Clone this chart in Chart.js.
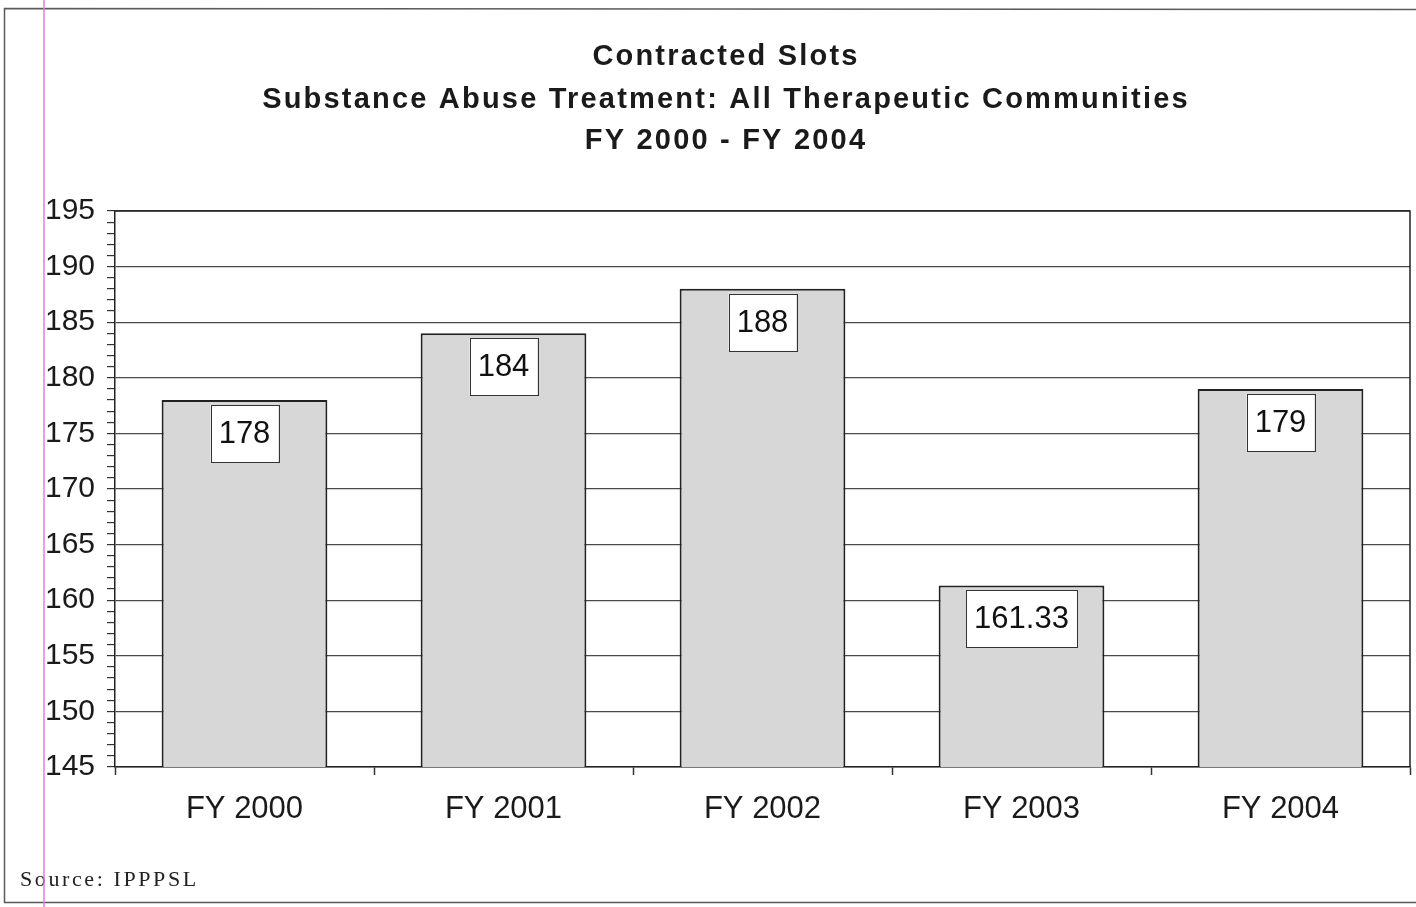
<!DOCTYPE html>
<html>
<head>
<meta charset="utf-8">
<script src="https://cdn.jsdelivr.net/npm/chart.js@4/dist/chart.umd.min.js"></script>
<style>
  html, body { margin: 0; padding: 0; background: #fff; }
  canvas { display: block; }
</style>
</head>
<body>
<canvas id="chart" width="1416" height="907"></canvas>
<script>
// Fiscal years and contracted treatment slots
const categories = ['FY 2000', 'FY 2001', 'FY 2002', 'FY 2003', 'FY 2004'];
const slots = [178, 184, 188, 161.33, 179];

// Value axis range and tick spacing
const yMin = 145;
const yMax = 195;
const majorStep = 5;
const minorStep = 1;

const titleLines = [
  'Contracted Slots',
  'Substance Abuse Treatment: All Therapeutic Communities',
  'FY 2000 - FY 2004'
];
const sourceNote = 'Source: IPPPSL';

const SANS = '"Liberation Sans", Arial, Helvetica, sans-serif';
const SERIF = '"Liberation Serif", "Times New Roman", serif';

// White page, outer frame, title and source line
const pagePlugin = {
  id: 'page',
  beforeDraw(chart) {
    const ctx = chart.ctx;
    ctx.save();
    ctx.fillStyle = '#fff';
    ctx.fillRect(0, 0, chart.width, chart.height);

    ctx.strokeStyle = '#5a5a5a';
    ctx.lineWidth = 1.5;
    ctx.beginPath();
    ctx.moveTo(chart.width, 9.5);
    ctx.lineTo(4.5, 8.5);
    ctx.lineTo(4.5, 902.5);
    ctx.lineTo(chart.width, 902.5);
    ctx.stroke();

    ctx.fillStyle = '#1a1a1a';
    ctx.font = 'bold 29px ' + SANS;
    ctx.letterSpacing = '2.2px';
    ctx.textBaseline = 'middle';
    ctx.textAlign = 'left';
    const centers = [57, 100, 141];
    titleLines.forEach((line, i) => {
      const w = ctx.measureText(line).width;
      ctx.fillText(line, 726 - w / 2, centers[i]);
    });

    ctx.font = '22px ' + SERIF;
    ctx.letterSpacing = '2.6px';
    ctx.textBaseline = 'alphabetic';
    ctx.fillStyle = '#222';
    ctx.fillText(sourceNote, 20, 886);
    ctx.restore();
  },
  afterDraw(chart) {
    const ctx = chart.ctx;
    const a = chart.chartArea;
    ctx.save();
    // frame round the plot area
    ctx.strokeStyle = '#222';
    ctx.lineWidth = 1.5;
    ctx.beginPath();
    ctx.moveTo(a.left, a.top);
    ctx.lineTo(a.right, a.top);
    ctx.lineTo(a.right, a.bottom);
    ctx.stroke();
    // margin rule
    ctx.strokeStyle = '#e07ee0';
    ctx.lineWidth = 1.5;
    ctx.beginPath();
    ctx.moveTo(44, 0);
    ctx.lineTo(44, chart.height);
    ctx.stroke();
    ctx.restore();
  }
};

// Boxed value labels just inside the top of each bar
const boxLabelPlugin = {
  id: 'boxLabels',
  afterDatasetsDraw(chart) {
    const ctx = chart.ctx;
    const meta = chart.getDatasetMeta(0);
    ctx.save();
    ctx.font = '31px ' + SANS;
    ctx.textBaseline = 'middle';
    ctx.textAlign = 'center';
    meta.data.forEach((bar, i) => {
      const text = String(chart.data.datasets[0].data[i]);
      const w = ctx.measureText(text).width + 16;
      const h = 57;
      const x = bar.x - w / 2;
      const y = bar.y + 5;
      ctx.fillStyle = '#fff';
      ctx.fillRect(x, y, w, h);
      ctx.strokeStyle = '#333';
      ctx.lineWidth = 1;
      ctx.strokeRect(Math.round(x) + 0.5, Math.round(y) + 0.5, Math.round(w), h);
      ctx.fillStyle = '#111';
      ctx.fillText(text, bar.x, y + h / 2 + 1);
    });
    ctx.restore();
  }
};

new Chart(document.getElementById('chart'), {
  type: 'bar',
  data: {
    labels: categories,
    datasets: [{
      data: slots,
      backgroundColor: '#d7d7d7',
      borderColor: '#222',
      borderWidth: 2,
      borderSkipped: 'start',
      barPercentage: 0.64,
      categoryPercentage: 1.0
    }]
  },
  options: {
    responsive: false,
    devicePixelRatio: 1,
    animation: false,
    layout: { padding: { top: 211, right: 6, left: 0, bottom: 0 } },
    plugins: {
      legend: { display: false },
      title: { display: false },
      tooltip: { enabled: false }
    },
    scales: {
      x: {
        type: 'category',
        afterFit(scale) { scale.height = 140; },
        grid: {
          offset: true,
          drawOnChartArea: false,
          tickLength: 8,
          tickColor: '#333',
          tickWidth: 1.5
        },
        border: { display: true, color: '#222', width: 1.5 },
        ticks: {
          padding: 16,
          color: '#1a1a1a',
          font: { family: SANS, size: 31 }
        }
      },
      y: {
        min: yMin,
        max: yMax,
        afterFit(scale) { scale.width = 115; },
        grid: {
          color: (c) => (c.tick && c.tick.value % majorStep === 0) ? '#4a4a4a' : 'rgba(0,0,0,0)',
          lineWidth: 1.2,
          tickColor: '#333',
          tickLength: 8,
          tickWidth: 1.2
        },
        border: { display: true, color: '#222', width: 1.5 },
        ticks: {
          stepSize: minorStep,
          autoSkip: false,
          padding: 12,
          color: '#1a1a1a',
          font: { family: SANS, size: 30 },
          callback: (v) => (v % majorStep === 0 ? String(v) : '')
        }
      }
    }
  },
  plugins: [pagePlugin, boxLabelPlugin]
});
</script>
</body>
</html>
